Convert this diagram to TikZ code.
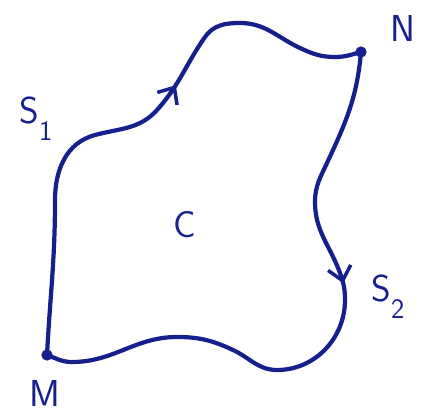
\documentclass[tikz,border=0pt]{standalone}
\usepackage{xcolor}
\usetikzlibrary{arrows.meta, decorations.markings}
\definecolor{ink}{RGB}{22,32,140}
\newcommand{\lowidx}[1]{\raisebox{-0.45em}{\fontsize{24}{26}\selectfont #1}}

\begin{document}
\begin{tikzpicture}[
  x=0.03cm, y=0.03cm,
  curve/.style={ink, line width=3.6pt, line cap=round, line join=round},
  dot/.style={circle, fill=ink, inner sep=0pt, minimum size=0.34cm},
  lbl/.style={ink, font=\sffamily\fontsize{32}{36}\selectfont},
  midarrow/.style={postaction={decorate, decoration={markings,
      mark=at position #1 with {\arrow[ink, line width=3pt, line cap=round]{Straight Barb[length=4mm, width=7mm]}}}}}
]
\useasboundingbox (0,0) rectangle (439,417);
% end points
\node[dot] (M) at (47,62) {};
\node[dot] (N) at (361,365) {};
% labels
\node[lbl] (labM) at (45,24) {M};
\node[lbl] (labN) at (403,389) {N};
\node[lbl] (labC) at (185,192) {C};
\node[lbl] (labS1) at (36,298) {S\lowidx{1}};
\node[lbl] (labS2) at (388,120) {S\lowidx{2}};
% S1 from M to N
\draw[curve, midarrow=0.6] (M.center) to[out=87, in=-90] (55,217)
  to[out=90, in=195] (95,282) to[out=15, in=228] (157,307)
  to[out=48, in=235] (205,380) to[out=55, in=180] (240,394)
  to[out=0, in=155] (300,369) to[out=-25, in=180] (335,360)
  to[out=0, in=195] (N.center);
% S2 from N to M
\draw[curve, midarrow=0.4] (N.center) to[out=-95, in=65] (327,254)
  to[out=-115, in=90] (315,215) to[out=-90, in=110] (340,144)
  to[out=-70, in=90] (345,117) to[out=-90, in=0] (277,47)
  to[out=180, in=-25] (233,67) to[out=155, in=0] (177,80)
  to[out=180, in=0] (72,55) to[out=180, in=-20] (M.center);
\end{tikzpicture}
\end{document}
